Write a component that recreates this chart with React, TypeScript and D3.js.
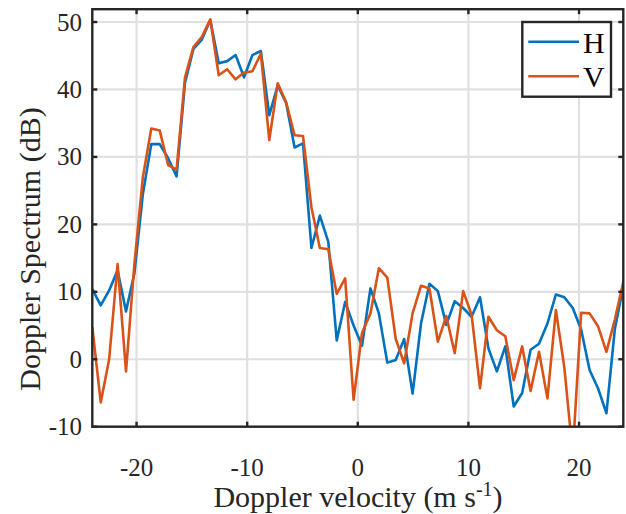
import React from "react";
import * as d3 from "d3";

// Doppler velocity bins (m/s): 64 evenly spaced bins across the Nyquist interval
const velocityMin = -24;
const velocityMax = 24;
const binCount = 64;

// Horizontal-polarisation spectrum (dB)
const spectrumH = [
  10.4, 8.0, 10.2, 13.2, 7.1, 12.8, 24.5, 31.9, 31.9, 29.8,
  27.1, 41.0, 46.0, 47.4, 50.3, 43.9, 44.2, 45.1, 41.8, 45.1,
  45.7, 36.2, 40.6, 38.0, 31.4, 32.0, 16.5, 21.3, 17.4, 2.8,
  8.5, 5.0, 2.0, 10.5, 6.8, -0.5, -0.1, 3.0, -5.1, 5.3,
  11.2, 10.1, 5.1, 8.6, 7.6, 6.3, 9.2, 1.6, -1.8, 1.9,
  -7.0, -5.0, 1.4, 2.3, 5.3, 9.6, 9.2, 7.6, 4.4, -1.6,
  -4.3, -8.0, 4.5, 10.8,
];

// Vertical-polarisation spectrum (dB)
const spectrumV = [
  4.8, -6.4, 0.0, 14.1, -1.8, 14.2, 27.0, 34.2, 33.9, 28.8,
  28.1, 41.8, 46.3, 47.8, 50.4, 42.1, 43.0, 41.5, 42.5, 42.7,
  45.3, 32.5, 40.9, 38.1, 33.2, 33.1, 22.5, 16.5, 16.3, 9.7,
  12.0, -6.0, 3.9, 6.8, 13.5, 12.1, 3.0, -0.6, 6.8, 10.9,
  10.5, 2.6, 6.4, 0.9, 10.1, 6.6, -4.3, 6.3, 4.3, 3.4,
  -3.1, 1.9, -4.7, 1.1, -5.8, 7.3, -1.2, -14.0, 6.9, 6.8,
  4.9, 1.1, 5.9, 11.5,
];

const xTicks = [-20, -10, 0, 10, 20];
const yTicks = [-10, 0, 10, 20, 30, 40, 50];
const seriesNames = ["H", "V"];
const seriesColors = ["#0072BD", "#D95319"];

const velocities = d3.range(binCount).map(
  (i) => velocityMin + (i * (velocityMax - velocityMin)) / (binCount - 1)
);

const W = 626;
const H = 514;
const plot = { left: 92.3, right: 623.3, top: 9.2, bottom: 426.7 };
const axisColor = "#262626";
const gridColor = "#e0e0e0";
const serif = "'Liberation Serif', 'Times New Roman', serif";

export default function App() {
  const x = d3.scaleLinear().domain([velocityMin, velocityMax]).range([plot.left, plot.right]);
  const y = d3.scaleLinear().domain([-10, 51.9]).range([plot.bottom, plot.top]);

  const line = d3
    .line<number>()
    .x((_, i) => x(velocities[i]))
    .y((d) => y(d));

  const series = [spectrumH, spectrumV];
  const tickLen = 5;

  return (
    <svg
      width={W}
      height={H}
      style={{ position: "absolute", left: 0, top: 0, background: "#fff" }}
      fontFamily={serif}
    >
      <defs>
        <clipPath id="plot-clip">
          <rect
            x={plot.left}
            y={plot.top}
            width={plot.right - plot.left}
            height={plot.bottom - plot.top}
          />
        </clipPath>
      </defs>
      <rect width={W} height={H} fill="#fff" />

      {/* grid */}
      <g stroke={gridColor} strokeWidth={2.2}>
        {xTicks.map((t) => (
          <line key={"gx" + t} x1={x(t)} x2={x(t)} y1={plot.top} y2={plot.bottom} />
        ))}
        {yTicks.map((t) => (
          <line key={"gy" + t} x1={plot.left} x2={plot.right} y1={y(t)} y2={y(t)} />
        ))}
      </g>

      {/* spectra */}
      <g clipPath="url(#plot-clip)" fill="none" strokeWidth={2.6} strokeLinejoin="round">
        {series.map((s, i) => (
          <path key={seriesNames[i]} d={line(s) ?? ""} stroke={seriesColors[i]} />
        ))}
      </g>

      {/* axes box and ticks */}
      <g stroke={axisColor} strokeWidth={2.4}>
        <rect
          x={plot.left}
          y={plot.top}
          width={plot.right - plot.left}
          height={plot.bottom - plot.top}
          fill="none"
        />
        {xTicks.map((t) => (
          <g key={"tx" + t}>
            <line x1={x(t)} x2={x(t)} y1={plot.bottom} y2={plot.bottom - tickLen} />
            <line x1={x(t)} x2={x(t)} y1={plot.top} y2={plot.top + tickLen} />
          </g>
        ))}
        {yTicks.map((t) => (
          <g key={"ty" + t}>
            <line x1={plot.left} x2={plot.left + tickLen} y1={y(t)} y2={y(t)} />
            <line x1={plot.right} x2={plot.right - tickLen} y1={y(t)} y2={y(t)} />
          </g>
        ))}
      </g>

      {/* tick labels */}
      <g fill={axisColor} fontSize={25}>
        {xTicks.map((t) => (
          <text key={"lx" + t} x={x(t)} y={476} textAnchor="middle">
            {String(t)}
          </text>
        ))}
        {yTicks.map((t) => (
          <text key={"ly" + t} x={82} y={y(t) + 8.5} textAnchor="end">
            {String(t)}
          </text>
        ))}
      </g>

      {/* axis labels */}
      <text x={358} y={507} textAnchor="middle" fontSize={30} fill={axisColor}>
        Doppler velocity (m s
        <tspan dy={-11} fontSize={20}>-1</tspan>
        <tspan dy={11}>)</tspan>
      </text>
      <text
        transform="translate(40, 249) rotate(-90)"
        textAnchor="middle"
        fontSize={30}
        fill={axisColor}
      >
        Doppler Spectrum (dB)
      </text>

      {/* legend */}
      <g>
        <rect x={522.3} y={22} width={88.7} height={74.7} fill="#fff" stroke={axisColor} strokeWidth={2.4} />
        {seriesNames.map((name, i) => {
          const ly = 41.7 + i * 34.6;
          return (
            <g key={"leg" + name}>
              <line x1={528.3} x2={579} y1={ly} y2={ly} stroke={seriesColors[i]} strokeWidth={2.6} />
              <text x={583} y={ly + 11} fontSize={30} fill="#000">
                {name}
              </text>
            </g>
          );
        })}
      </g>
    </svg>
  );
}
